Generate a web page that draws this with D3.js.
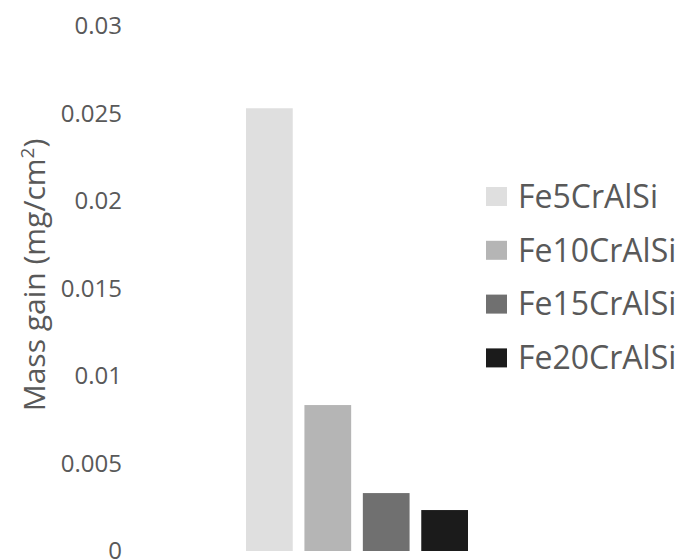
<!DOCTYPE html>
<html>
<head>
<meta charset="utf-8">
<script src="https://cdn.jsdelivr.net/npm/d3@7"></script>
<style>
  html, body { margin: 0; padding: 0; background: #fff; }
  svg { display: block; font-family: "Open Sans", sans-serif; }
</style>
</head>
<body>
<svg id="chart" width="684" height="559"></svg>
<script>
const series = ["Fe5CrAlSi", "Fe10CrAlSi", "Fe15CrAlSi", "Fe20CrAlSi"];
const values = [0.0253, 0.00834, 0.00331, 0.00234];
const colors = ["#dfdfdf", "#b5b5b5", "#707070", "#1b1b1b"];
const yTicks = [0, 0.005, 0.01, 0.015, 0.02, 0.025, 0.03];
const yTickLabels = ["0", "0.005", "0.01", "0.015", "0.02", "0.025", "0.03"];
const yTitle = "Mass gain (mg/cm";

const svg = d3.select("#chart");
const y = d3.scaleLinear().domain([0, 0.03]).range([551, 26]);
const x = d3.scaleBand().domain(series).range([246, 468]).paddingInner(0.2).paddingOuter(0);

const yAxis = d3.axisLeft(y).tickValues(yTicks).tickFormat((d, i) => yTickLabels[i]).tickSize(0).tickPadding(0);
const gy = svg.append("g").attr("transform", "translate(122,0)").call(yAxis);
gy.select(".domain").remove();
gy.selectAll("text").attr("fill", "#595959").style("font-size", "24px").style("font-family", "'Open Sans', sans-serif");

svg.append("g").selectAll("rect").data(series).join("rect")
  .attr("x", d => x(d))
  .attr("width", x.bandwidth())
  .attr("y", (d, i) => y(values[i]))
  .attr("height", (d, i) => y(0) - y(values[i]))
  .attr("fill", (d, i) => colors[i]);

const title = svg.append("text")
  .attr("transform", "translate(45,275) rotate(-90)")
  .attr("text-anchor", "middle")
  .attr("fill", "#595959")
  .style("font-size", "30px");
title.append("tspan").text(yTitle);
title.append("tspan").text("2").attr("dy", -11).style("font-size", "19px");
title.append("tspan").text(")").attr("dy", 11);

const leg = svg.append("g").selectAll("g").data(series).join("g")
  .attr("transform", (d, i) => `translate(486,${196.5 + i * 53.8})`);
leg.append("rect").attr("x", 0).attr("y", -9.5).attr("width", 21).attr("height", 19)
  .attr("fill", (d, i) => colors[i]);
leg.append("text").attr("x", 32).attr("dy", "0.35em").attr("fill", "#595959")
  .style("font-size", "32px").text(d => d);
</script>
</body>
</html>
